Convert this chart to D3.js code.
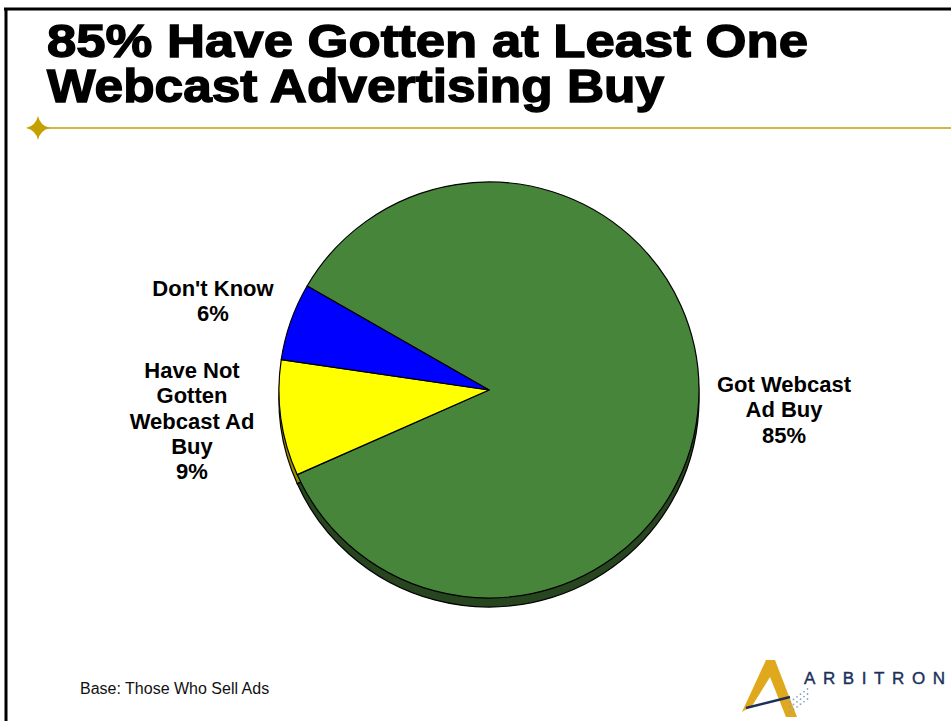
<!DOCTYPE html>
<html>
<head>
<meta charset="utf-8">
<script src="https://cdn.jsdelivr.net/npm/d3@7"></script>
<style>
  html, body { margin: 0; padding: 0; background: #fff; }
  svg { display: block; }
</style>
</head>
<body>
<div id="chart"></div>
<script>
// Survey answers for sellers of webcast advertising
const categories = ["Got Webcast Ad Buy", "Have Not Gotten Webcast Ad Buy", "Don't Know"];
const shares = [85, 9, 6];
const sliceColors = ["#47853a", "#ffff00", "#0000ff"];
const sideColors = ["#27461f", "#9a8c00", "#00007a"];
const labelLines = [
  ["Got Webcast", "Ad Buy", "85%"],
  ["Have Not", "Gotten", "Webcast Ad", "Buy", "9%"],
  ["Don't Know", "6%"]
];
const titleLines = ["85% Have Gotten at Least One", "Webcast Advertising Buy"];
const footnote = "Base: Those Who Sell Ads";

const W = 951, H = 721;
const svg = d3.select("#chart").append("svg").attr("width", W).attr("height", H);

// slide frame
svg.append("line").attr("x1", 4).attr("x2", W).attr("y1", 9).attr("y2", 9)
  .attr("stroke", "#000").attr("stroke-width", 3);
svg.append("line").attr("x1", 6).attr("x2", 6).attr("y1", 8).attr("y2", H)
  .attr("stroke", "#000").attr("stroke-width", 3);

// title, two lines in one text block
const titleWidths = [761, 617];
const title = svg.append("text")
  .attr("font-family", "Liberation Sans, Arial, sans-serif")
  .attr("font-weight", "bold")
  .attr("font-size", 47)
  .attr("fill", "#000")
  .attr("stroke", "#000").attr("stroke-width", 1.4);
title.selectAll("tspan").data(titleLines).join("tspan")
  .attr("x", 47)
  .attr("y", (d, i) => 57 + i * 45)
  .attr("textLength", (d, i) => titleWidths[i])
  .attr("lengthAdjust", "spacingAndGlyphs")
  .text(d => d);

// gold rule with four-point star
svg.append("line").attr("x1", 38).attr("x2", W).attr("y1", 128).attr("y2", 128)
  .attr("stroke", "#c4a000").attr("stroke-width", 1.3);
const star = d3.path();
const sx = 38, sy = 128, so = 12, si = 2.2;
star.moveTo(sx, sy - so);
star.quadraticCurveTo(sx + si, sy - si, sx + so, sy);
star.quadraticCurveTo(sx + si, sy + si, sx, sy + so);
star.quadraticCurveTo(sx - si, sy + si, sx - so, sy);
star.quadraticCurveTo(sx - si, sy - si, sx, sy - so);
star.closePath();
svg.append("path").attr("d", star.toString()).attr("fill", "#c4a000");

// pie
const cx = 489, cy = 390, R = 210, squash = 208 / 210, depth = 9;
const pie = d3.pie().sort(null)
  .startAngle(-60 * Math.PI / 180)
  .endAngle(300 * Math.PI / 180);
const arcs = pie(shares);
const arc = d3.arc().innerRadius(0).outerRadius(R);

// side wall: same slices, lowered and darkened
const sideLayer = svg.append("g").attr("transform", `translate(${cx},${cy + depth}) scale(1,${squash})`);
sideLayer.selectAll("path").data(arcs).join("path")
  .attr("d", arc)
  .attr("fill", (d, i) => sideColors[i])
  .attr("stroke", "#000").attr("stroke-width", 1.2);

const faceLayer = svg.append("g").attr("transform", `translate(${cx},${cy}) scale(1,${squash})`);
faceLayer.selectAll("path").data(arcs).join("path")
  .attr("d", arc)
  .attr("fill", (d, i) => sliceColors[i])
  .attr("stroke", "#000").attr("stroke-width", 1.2)
  .attr("stroke-linejoin", "round");

// slice labels
const labelPos = [[784, 392], [192, 378], [213, 296]];
const lineGap = 25.3;
labelLines.forEach((lines, i) => {
  const t = svg.append("text")
    .attr("text-anchor", "middle")
    .attr("font-family", "Liberation Sans, Arial, sans-serif")
    .attr("font-weight", "bold")
    .attr("font-size", 22)
    .attr("fill", "#000");
  lines.forEach((s, j) => {
    t.append("tspan").attr("x", labelPos[i][0]).attr("y", labelPos[i][1] + j * lineGap).text(s);
  });
});

// footnote
svg.append("text").attr("x", 80).attr("y", 694)
  .attr("font-family", "Liberation Sans, Arial, sans-serif")
  .attr("font-size", 16).attr("fill", "#111")
  .text(footnote);

// company mark
const logo = svg.append("g");
logo.append("path")
  .attr("d", "M742,712 L766,660 L775,660 L797,717 L786,717 L770,677 L752,706 Z")
  .attr("fill", "#e0a81c");
logo.append("path")
  .attr("d", "M746,708 L790,697")
  .attr("stroke", "#1c2f5c").attr("stroke-width", 2.5);
for (let k = 0; k < 18; k++) {
  logo.append("circle")
    .attr("cx", 790 + (k % 6) * 3.5)
    .attr("cy", 712 - Math.floor(k / 6) * 5 - (k % 6) * 2.6)
    .attr("r", 0.9).attr("fill", "#8aa0c0");
}
logo.append("text").attr("x", 804).attr("y", 684)
  .attr("font-family", "Liberation Sans, Arial, sans-serif")
  .attr("font-size", 17).attr("fill", "#1c2f5c")
  .attr("stroke", "#1c2f5c").attr("stroke-width", 0.4)
  .attr("textLength", 141)
  .attr("lengthAdjust", "spacing")
  .text("ARBITRON");
</script>
</body>
</html>
